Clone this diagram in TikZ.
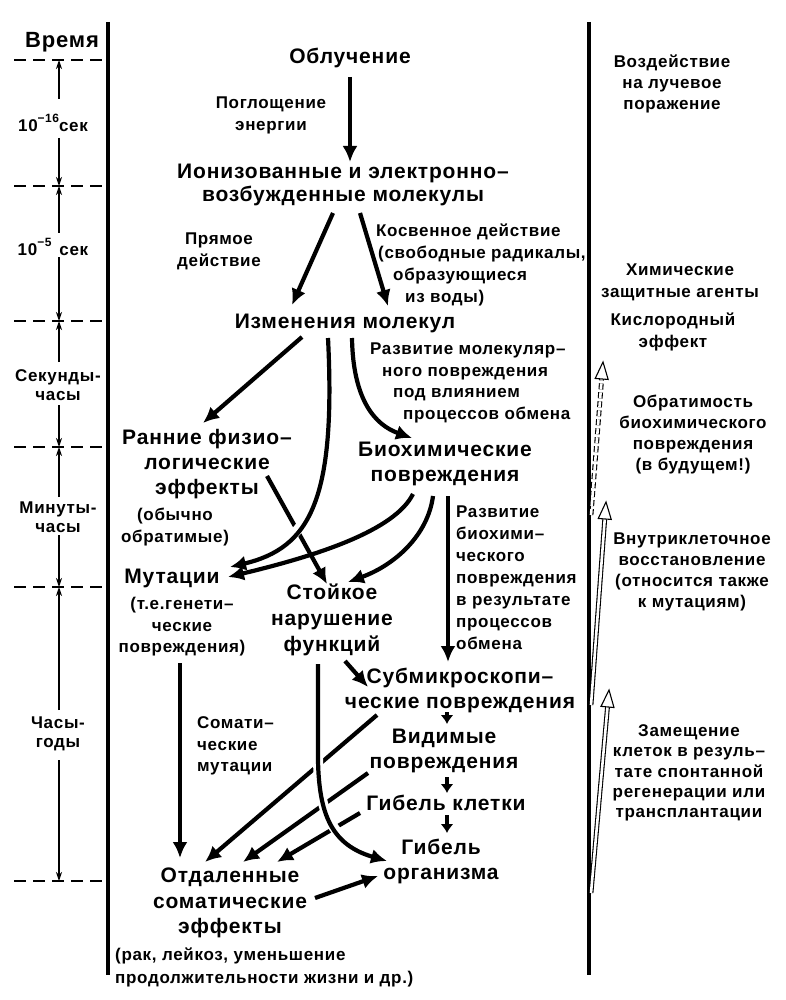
\documentclass[tikz,border=0pt]{standalone}
\usepackage{fontspec}
\setmainfont{Liberation Sans}[LetterSpace=4]
\usetikzlibrary{arrows.meta,calc}
\begin{document}
\begin{tikzpicture}[x=1pt,y=-1pt,
 big/.style={font=\fontsize{21}{25}\selectfont\bfseries, align=center, inner sep=0pt},
 sm/.style={font=\fontsize{17}{22}\selectfont\bfseries, align=center, inner sep=0pt},
 rt/.style={font=\fontsize{17}{21}\selectfont\bfseries, align=center, inner sep=0pt},
 tl/.style={font=\fontsize{17}{19.5}\selectfont\bfseries, align=center, inner sep=0pt},
 arr/.style={line width=4.2pt, -{Latex[length=16pt,width=15pt]}},
 sarr/.style={line width=4pt, -{Latex[length=9pt,width=13pt]}},
 tarr/.style={line width=1.1pt, -{Stealth[length=9pt,width=6pt]}},
 sep/.style={line width=1.4pt, dash pattern=on 12pt off 7pt},
 vline/.style={line width=4pt},
 gap/.style={preaction={draw=white, line width=10pt, arrows=-}},
 hollow/.style={line width=1.1pt, double, double distance=2.6pt},
 hhead/.style={line width=1.1pt, fill=white, line join=miter},
]
\fill[white] (0,0) rectangle (786,1000);
\useasboundingbox (0,0) rectangle (786,1000);

% frame lines
\coordinate (lt) at (108,22); \coordinate (lb) at (108,975);
\coordinate (rtp) at (589,22); \coordinate (rb) at (589,975);
\draw[vline] (lt) -- (lb);
\draw[vline] (rtp) -- (rb);

% time scale
\node[font=\fontsize{22}{26}\selectfont\bfseries, inner sep=0pt] (vremya) at (62,42) {Время};
\foreach \y/\n in {60/1,186/2,321/3,447/4,587/5,881/6} {
  \coordinate (d\n) at (59,\y);
  \coordinate (e\n) at (14,\y);
  \draw[sep] (e\n) -- (lt |- d\n);
}
\node[tl] (t1) at (53,123) {10\raisebox{9pt}{\fontsize{12}{12}\selectfont −16}сек};
\node[tl] (t2) at (53,247) {10\raisebox{9pt}{\fontsize{12}{12}\selectfont −5}\hspace{8pt}сек};
\node[tl] (t3) at (58,385) {Секунды-\\часы};
\node[tl] (t4) at (58,517) {Минуты-\\часы};
\node[tl] (t5) at (58,734) {Часы-\\годы};
\coordinate (u1) at (59,99);  \coordinate (w1) at (59,138);
\coordinate (u2) at (59,233); \coordinate (w2) at (59,257);
\coordinate (u3) at (59,362); \coordinate (w3) at (59,405);
\coordinate (u4) at (59,497); \coordinate (w4) at (59,535);
\coordinate (u5) at (59,710); \coordinate (w5) at (59,760);
\draw[tarr] (u1) -- (d1); \draw[tarr] (w1) -- (d2);
\draw[tarr] (u2) -- (d2); \draw[tarr] (w2) -- (d3);
\draw[tarr] (u3) -- (d3); \draw[tarr] (w3) -- (d4);
\draw[tarr] (u4) -- (d4); \draw[tarr] (w4) -- (d5);
\draw[tarr] (u5) -- (d5); \draw[tarr] (w5) -- (d6);

% main nodes
\node[big] (obl) at (350,58) {Облучение};
\node[sm] (pogl) at (271,115) {Поглощение\\энергии};
\node[big, font=\fontsize{21}{23}\selectfont\bfseries] (ion) at (343,185) {Ионизованные и электронно–\\возбужденные молекулы};
\node[sm] (pryam) at (219,251) {Прямое\\действие};
\node[sm, align=left, anchor=west] (kosv) at (376,265) {Косвенное действие\\\hspace*{2pt}(свободные радикалы,\\\hspace*{17pt}образующиеся\\\hspace*{29pt}из воды)};
\node[big] (izm) at (345,323) {Изменения молекул};
\node[sm, align=left, anchor=west, font=\fontsize{17}{21.5}\selectfont\bfseries] (razv1) at (370,383) {Развитие молекуляр–\\\hspace*{12pt}ного повреждения\\\hspace*{23pt}под влиянием\\\hspace*{33pt}процессов обмена};
\node[big] (ran) at (207,464) {Ранние физио–\\логические\\эффекты};
\node[sm] (obych) at (175,527) {(обычно\\обратимые)};
\node[big] (bio) at (445,464) {Биохимические\\повреждения};
\node[sm, align=left, anchor=west] (razv2) at (456,578) {Развитие\\биохими–\\ческого\\повреждения\\в результате\\процессов\\обмена};
\node[big] (mut) at (172,578) {Мутации};
\node[sm, font=\fontsize{17}{21.5}\selectfont\bfseries] (tege) at (182,627) {(т.е.генети–\\ческие\\повреждения)};
\node[big, font=\fontsize{21}{26}\selectfont\bfseries] (stoy) at (332,620) {Стойкое\\нарушение\\функций};
\node[big] (subm) at (460,690) {Субмикроскопи–\\ческие повреждения};
\node[sm, align=left, anchor=west, font=\fontsize{17}{21.5}\selectfont\bfseries] (somat) at (197,746) {Сомати–\\ческие\\мутации};
\node[big] (vid) at (444,751) {Видимые\\повреждения};
\node[big] (gibk) at (446,803) {Гибель клетки};
\node[big] (gibo) at (441,861) {Гибель\\организма};
\node[big, font=\fontsize{21}{25.5}\selectfont\bfseries] (otd) at (230,903) {Отдаленные\\соматические\\эффекты};
\node[sm, align=left, anchor=west, font=\fontsize{17}{23}\selectfont\bfseries] (rak) at (115,967) {(рак, лейкоз, уменьшение\\продолжительности жизни и др.)};

% right column
\node[rt] (vozd) at (672,84) {Воздействие\\на лучевое\\поражение};
\node[rt, font=\fontsize{17}{22}\selectfont\bfseries] (him) at (680,282) {Химические\\защитные агенты};
\node[rt, font=\fontsize{17}{22}\selectfont\bfseries] (kisl) at (673,332) {Кислородный\\эффект};
\node[rt] (obr) at (693,435) {Обратимость\\биохимического\\повреждения\\(в будущем!)};
\node[rt] (vnutr) at (692,572) {Внутриклеточное\\восстановление\\(относится также\\к мутациям)};
\node[rt, font=\fontsize{17}{20.2}\selectfont\bfseries] (zam) at (689,773) {Замещение\\клеток в резуль–\\тате спонтанной\\регенерации или\\трансплантации};

% hollow arrows on the right
\coordinate (h1b) at (591,515); \coordinate (h1t) at (603,362);
\coordinate (h2b) at (591,705); \coordinate (h2t) at (606,502);
\coordinate (h3b) at (591,893); \coordinate (h3t) at (609,690);
\foreach \i in {1,2,3} {
  \coordinate (h\i h) at ($(h\i t)!17pt!(h\i b)$);
}
\draw[hollow, dash pattern=on 6pt off 3pt] (h1b) -- (h1h);
\draw[hollow] (h2b) -- (h2h);
\draw[hollow] (h3b) -- (h3h);
\foreach \i in {1,2,3} {
  \draw[hhead] (h\i t) -- ($(h\i h)!6.5pt!90:(h\i t)$) -- ($(h\i h)!6.5pt!-90:(h\i t)$) -- cycle;
}

% main arrows
\draw[arr] ($(obl)+(0,19)$) -- ($(ion)+(7,-23)$);
\draw[arr] ($(ion)+(-10,28)$) -- ($(izm)+(-53,-18)$);
\draw[arr] ($(ion)+(17,28)$) -- ($(izm)+(43,-17)$);
\draw[arr] ($(izm)+(-43,14)$) -- ($(ran)+(-4,-41)$);
\draw[arr] ($(ran)+(60,12)$) -- ($(stoy)+(-5,-36)$);
\draw[arr, gap] ($(izm)+(-17,15)$) .. controls (336,500) and (310,548) .. ($(mut)+(58,-11)$);
\draw[arr] ($(izm)+(7,15)$) .. controls (353,400) and (375,425) .. ($(bio)+(-33,-26)$);
\draw[arr] ($(bio)+(-32,30)$) .. controls (395,530) and (320,555) .. ($(mut)+(56,-1)$);
\draw[arr] ($(bio)+(-12,32)$) .. controls (428,535) and (395,565) .. ($(stoy)+(16,-38)$);
\draw[arr] ($(bio)+(3,32)$) -- ($(subm)+(-12,-28)$);
\draw[arr] ($(tege)+(-2,36)$) -- ($(otd)+(-50,-45)$);
\draw[arr] ($(stoy)+(13,41)$) -- ($(subm)+(-92,-3)$);
\draw[sarr] ($(subm)+(-13,22)$) -- ($(vid)+(3,-27)$);
\draw[sarr] ($(vid)+(3,26)$) -- ($(gibk)+(1,-10)$);
\draw[sarr] ($(gibk)+(1,12)$) -- ($(gibo)+(6,-28)$);
\draw[arr] ($(subm)+(-83,25)$) -- ($(otd)+(-25,-41)$);
\draw[arr] ($(vid)+(-76,22)$) -- ($(otd)+(13,-41)$);
\draw[arr] ($(gibk)+(-86,10)$) -- ($(otd)+(47,-41)$);
\draw[arr, gap] ($(stoy)+(-14,44)$) -- (318,760) .. controls (319,815) and (332,845) .. ($(gibo)+(-54,0)$);
\draw[arr] ($(otd)+(85,-5)$) -- ($(gibo)+(-63,15)$);
\end{tikzpicture}
\end{document}
